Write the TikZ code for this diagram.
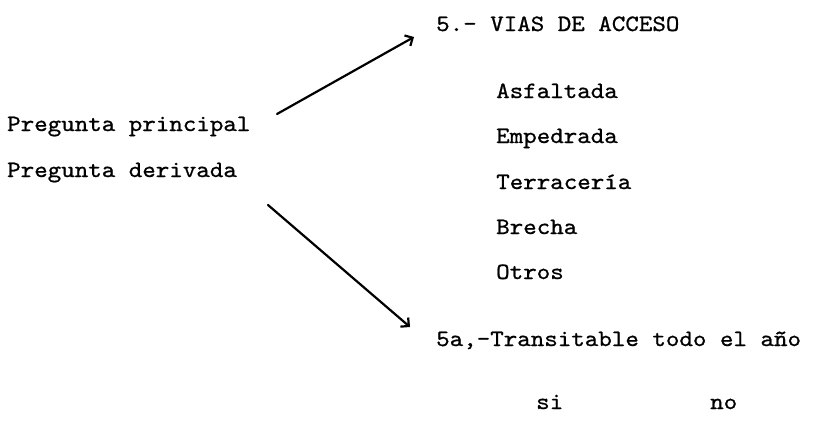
\documentclass[tikz,border=0pt]{standalone}
\usepackage{fontspec}
\newfontfamily\tw{lmmono10-regular}[Extension=.otf,FakeStretch=1.1,FakeBold=0.8]
\usetikzlibrary{arrows.meta}
\begin{document}
\begin{tikzpicture}[x=1pt,y=-1pt,
  lbl/.style={anchor=base west,inner sep=0pt,font=\tw\fontsize{23.4}{28}\selectfont},
  hand/.style={line width=2.2pt,line cap=round,-{Straight Barb[length=6pt,width=12pt,line width=2.2pt]}}]
\useasboundingbox (0,0) rectangle (816,437);
\node[lbl] (pp) at (7,131) {Pregunta principal};
\node[lbl] (pd) at (7,177) {Pregunta derivada};
\node[lbl] (q5) at (436,31) {5.- VIAS DE ACCESO};
\node[lbl] (o1) at (496,98) {Asfaltada};
\node[lbl] (o2) at (496,143) {Empedrada};
\node[lbl] (o3) at (496,189) {Terracería};
\node[lbl] (o4) at (496,234) {Brecha};
\node[lbl] (o5) at (496,279) {Otros};
\node[lbl] (q5a) at (436,346) {5a,-Transitable todo el año};
\node[lbl] (si) at (536,409) {si};
\node[lbl] (no) at (710,409) {no};
\coordinate (a1) at (277,114);
\coordinate (b1) at (414,37);
\coordinate (a2) at (268,205);
\coordinate (b2) at (410,327);
\draw[hand] (a1) -- (b1);
\draw[hand] (a2) -- (b2);
\end{tikzpicture}
\end{document}
